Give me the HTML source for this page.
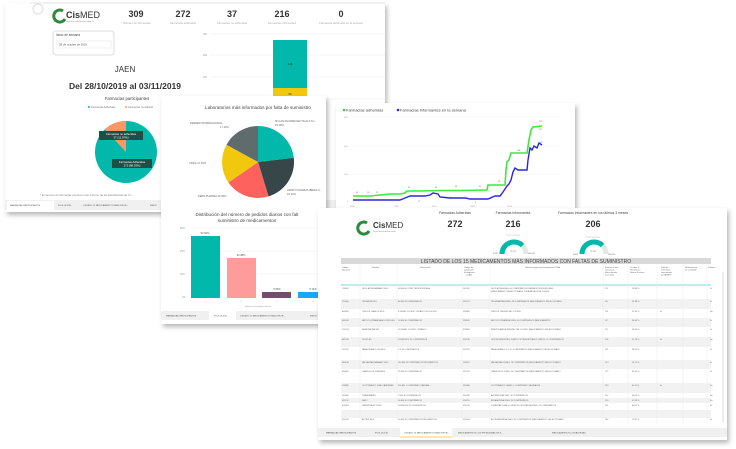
<!DOCTYPE html>
<html><head><meta charset="utf-8"><style>
html,body{margin:0;padding:0;background:#fff;}
svg{display:block;font-family:"Liberation Sans",sans-serif;}
</style></head><body>
<svg width="736" height="449" viewBox="0 0 736 449" xmlns="http://www.w3.org/2000/svg">
<defs>
<filter id="sh" x="-10%" y="-10%" width="120%" height="125%"><feDropShadow dx="2" dy="3" stdDeviation="2.5" flood-color="#000" flood-opacity="0.28"/></filter>
</defs>
<!-- PANEL 1 -->
<rect x="5" y="3" width="380" height="209" fill="#fff" filter="url(#sh)"/>
<line x1="30" y1="3" x2="385" y2="3" stroke="#e6e6e6"/>
<circle cx="38" cy="9" r="5" fill="none" stroke="#ddd"/>
<g>
<path d="M63 11 a6 6 0 1 0 2 8" fill="none" stroke="#2d8a3e" stroke-width="3"/>
<text x="66" y="18" font-size="9" font-weight="bold" fill="#333">Cis<tspan font-weight="normal">MED</tspan></text>
<text x="66" y="22" font-size="2" fill="#888">Centro de información sobre el</text>
</g>
<g font-size="9" font-weight="bold" fill="#333" text-anchor="middle">
<text x="136" y="17">309</text><text x="183" y="17">272</text><text x="232" y="17">37</text><text x="282" y="17">216</text><text x="341" y="17">0</text>
</g>
<g font-size="2.8" fill="#aaa" text-anchor="middle">
<text x="136" y="24">* Número de Farmacias</text><text x="183" y="24">Farmacias adheridas</text><text x="232" y="24">Farmacias no adheridas</text><text x="282" y="24">Farmacias informantes</text><text x="341" y="24">Farmacias adheridas en la semana</text>
</g>
<rect x="53" y="31" width="61" height="24" rx="3" fill="#fff" stroke="#ddd"/>
<text x="56" y="36" font-size="3.2" fill="#444">Inicio de semana</text>
<rect x="57" y="41" width="54" height="7" fill="#fff" stroke="#e4e4e4" stroke-width="0.5"/>
<text x="59" y="45.5" font-size="2.8" fill="#555">28 de octubre de 2019</text>
<text x="125" y="72" font-size="8" fill="#333" text-anchor="middle">JAEN</text>
<text x="125" y="89" font-size="8.5" fill="#333" text-anchor="middle" font-weight="bold">Del 28/10/2019 al 03/11/2019</text>
<text x="127" y="100" font-size="4.2" fill="#444" text-anchor="middle">Farmacias participantes</text>
<circle cx="89" cy="107" r="1" fill="#01b8aa"/><text x="91" y="108" font-size="2.6" fill="#777">Farmacias Adheridas</text>
<circle cx="126" cy="107" r="1" fill="#fe9666"/><text x="128" y="108" font-size="2.6" fill="#777">Farmacias no adherid</text>
<circle cx="126" cy="152" r="31" fill="#01b8aa"/>
<path d="M126 152 L104.8 129.4 A31 31 0 0 1 126 121 Z" fill="#fe9666"/>
<rect x="99" y="131" width="44" height="9" fill="#1f4e46"/>
<text x="121" y="135" font-size="2.8" fill="#fff" text-anchor="middle">Farmacias no adheridas</text>
<text x="121" y="138.5" font-size="2.8" fill="#fff" text-anchor="middle">37 (11.97%)</text>
<rect x="112" y="159" width="40" height="9" fill="#1f4e46"/>
<text x="132" y="163" font-size="2.8" fill="#fff" text-anchor="middle">Farmacias Adheridas</text>
<text x="132" y="166.5" font-size="2.8" fill="#fff" text-anchor="middle">272 (88.03%)</text>
<text x="40" y="196" font-size="2.8" fill="#888">* El número de farmacias provienen del informe de las Estadísticas de Co</text>
<rect x="5" y="200" width="380" height="10" fill="#f0f0f0"/>
<rect x="7" y="201" width="47" height="9" fill="#fff"/>
<g font-size="2.2" fill="#555"><text x="10" y="206">FARMACIAS PARTICIPANTES</text><text x="58" y="206">EVOLUCIÓN</text><text x="83" y="206">LISTADO 15 MEDICAMENTOS MÁS INFOR...</text><text x="150" y="206">MEDIC</text></g>
<!-- bar chart panel1 -->
<g font-size="2.4" fill="#999"><text x="203" y="35">300</text><text x="203" y="56">200</text><text x="203" y="78">100</text><text x="206" y="100">0</text></g>
<g stroke="#eee" stroke-width="0.6"><line x1="210" y1="34" x2="385" y2="34"/><line x1="210" y1="55" x2="385" y2="55"/><line x1="210" y1="77" x2="385" y2="77"/><line x1="210" y1="99" x2="385" y2="99"/></g>
<rect x="273" y="40" width="34" height="48" fill="#01b8aa"/>
<rect x="273" y="88" width="34" height="11" fill="#f2c80f"/>
<text x="290" y="65" font-size="2.8" fill="#333" text-anchor="middle">216</text>
<text x="290" y="95" font-size="2.8" fill="#333" text-anchor="middle">56</text>

<!-- PANEL 2 -->
<rect x="161" y="96" width="165" height="228" fill="#fff" filter="url(#sh)"/>
<text x="258" y="109" font-size="4.6" fill="#444" text-anchor="middle">Laboratorios más informados por falta de suministro</text>
<path d="M258 162 L258 126 A36 36 0 0 1 293.8 157.9 Z" fill="#01b8aa"/>
<path d="M258 162 L293.8 157.9 A36 36 0 0 1 268.5 196.4 Z" fill="#374649"/>
<path d="M258 162 L268.5 196.4 A36 36 0 0 1 228.4 182.5 Z" fill="#fd625e"/>
<path d="M258 162 L228.4 182.5 A36 36 0 0 1 226.5 144.7 Z" fill="#f2c80f"/>
<path d="M258 162 L226.5 144.7 A36 36 0 0 1 258 126 Z" fill="#5f6b6d"/>
<g font-size="2.6" fill="#666">
<text x="190" y="124">FERRER INTERNACIONAL</text><text x="220" y="128">17.19%</text>
<text x="275" y="122">MYLAN PHARMACEUTICALS S.L.</text><text x="275" y="126">23.18%</text>
<text x="189" y="164">CINFA 17.63%</text>
<text x="198" y="197">KERN PHARMA 20.05%</text>
<text x="287" y="191">ARISTO PHARMA IBERIA S...</text><text x="287" y="195">22.14%</text>
</g>
<text x="247" y="216" font-size="4.6" fill="#444" text-anchor="middle">Distribución del número de pedidos diarios con falt</text>
<text x="247" y="222" font-size="4.6" fill="#444" text-anchor="middle">suministro de medicamentos</text>
<g font-size="2.4" fill="#999"><text x="180" y="229">60%</text><text x="180" y="252">40%</text><text x="180" y="275">20%</text><text x="182" y="298">0%</text></g>
<g stroke="#eee" stroke-width="0.6"><line x1="189" y1="228" x2="325" y2="228"/><line x1="189" y1="251" x2="325" y2="251"/><line x1="189" y1="274" x2="325" y2="274"/></g>
<rect x="191" y="236" width="29" height="62" fill="#01b8aa"/>
<rect x="227" y="258" width="29" height="40" fill="#fd9c9a"/>
<rect x="262" y="292" width="29" height="6" fill="#744c6c"/>
<rect x="298" y="292" width="28" height="6" fill="#19a8f5"/>
<g font-size="2.6" fill="#555" text-anchor="middle"><text x="205" y="234">53.92%</text><text x="241" y="256">34.68%</text><text x="277" y="290">5.66%</text><text x="313" y="290">5.74%</text></g>
<g font-size="2.2" fill="#999" text-anchor="middle"><text x="205" y="302">1</text><text x="241" y="302">2</text><text x="277" y="302">3</text><text x="313" y="302">4</text><text x="258" y="307">Número de pedidos diarios</text></g>
<rect x="161" y="311" width="165" height="9" fill="#f0f0f0"/>
<rect x="209" y="311" width="27" height="9" fill="#fff"/>
<g font-size="2.2" fill="#555"><text x="166" y="316.5">FARMACIAS PARTICIPANTES</text><text x="214" y="316.5">EVOLUCIÓN</text><text x="240" y="316.5">LISTADO 15 MEDICAMENTOS MÁS INFOR...</text><text x="310" y="316.5">MEDIC</text></g>

<!-- PANEL 3 -->
<rect x="336" y="103" width="239" height="110" fill="#fff" filter="url(#sh)"/>
<circle cx="344" cy="110" r="1.3" fill="#3ad33a"/><text x="346" y="111.5" font-size="4" fill="#444">Farmacias adheridas</text>
<circle cx="398" cy="110" r="1.3" fill="#2b2bd8"/><text x="400" y="111.5" font-size="4" fill="#444">Farmacias informantes en la semana</text>
<g font-size="2.2" fill="#999"><text x="344" y="118">300</text><text x="344" y="147">200</text><text x="344" y="175">100</text><text x="347" y="202">0</text>
<text x="350" y="207">2015</text><text x="394" y="207">2016</text><text x="432" y="207">2017</text><text x="470" y="207">2018</text><text x="507" y="207">2019</text></g>
<g stroke="#f0f0f0" stroke-width="0.5"><line x1="352" y1="117" x2="560" y2="117"/><line x1="352" y1="146" x2="560" y2="146"/><line x1="352" y1="174" x2="560" y2="174"/></g>
<polyline fill="none" stroke="#3ee83e" stroke-width="1.6" points="353,196 370,196 380,195 390,194 400,194 405,193 407,191 420,191 440,190.5 460,190.5 487,190 488,185 505,185 506,170 507,162 509,160 511,153 527,153 529,140 531,130 533,127 542,126"/>
<polyline fill="none" stroke="#2828d8" stroke-width="1.4" points="353,200 370,200 390,200 400,200 405,198 410,196 425,196 430,195 433,193 438,194 440,197 450,198 465,198 470,199 480,199 488,199 495,196 500,196 503,192 505,189 507,186 509,184 511,180 513,172 515,168 518,170 527,170 528,160 530,148 532,150 534,146 537,148 539,143 542,145"/>
<g font-size="2" fill="#666"><text x="356" y="193">18</text><text x="367" y="193">19</text><text x="376" y="193">21</text><text x="408" y="188">36</text><text x="435" y="188">36</text><text x="455" y="187">38</text><text x="479" y="187">39</text><text x="498" y="182">58</text><text x="517" y="151">148</text><text x="539" y="122">272</text><text x="539" y="130">272</text><text x="539" y="143">193</text><text x="418" y="202">17</text><text x="450" y="198">9</text><text x="465" y="198">10</text><text x="475" y="203">4</text></g>

<!-- PANEL 4 -->
<rect x="318" y="208" width="409" height="232" fill="#fff" filter="url(#sh)"/>
<path d="M367 223 a6 6 0 1 0 2 8" fill="none" stroke="#2d8a3e" stroke-width="3"/>
<text x="373" y="228" font-size="8" font-weight="bold" fill="#333">Cis<tspan font-weight="normal">MED</tspan></text>
<text x="373" y="232" font-size="1.8" fill="#888">Centro de información sobre</text>
<g font-size="3.4" fill="#444" text-anchor="middle"><text x="455" y="214">Farmacias Adheridas</text><text x="513" y="214">Farmacias Informantes</text><text x="593" y="214">Farmacias Informantes en los últimos 3 meses</text></g>
<g font-size="9" font-weight="bold" fill="#333" text-anchor="middle"><text x="455" y="227">272</text><text x="513" y="227">216</text><text x="593" y="227">206</text></g>
<g font-size="3" fill="#ccc" text-anchor="middle"><text x="513" y="236">Porcentaje</text><text x="593" y="238">Porcentaje</text></g>
<path d="M502 254 A12 12 0 0 1 526 254" fill="none" stroke="#e6e6e6" stroke-width="5"/>
<path d="M502 254 A12 12 0 0 1 522.5 245.5" fill="none" stroke="#01b8aa" stroke-width="5"/>
<path d="M582 254 A12 12 0 0 1 606 254" fill="none" stroke="#e6e6e6" stroke-width="5"/>
<path d="M582 254 A12 12 0 0 1 602.5 245.5" fill="none" stroke="#01b8aa" stroke-width="5"/>
<g font-size="1.8" fill="#666"><text x="510" y="252">79.17%</text><text x="590" y="252">75.74%</text><text x="493" y="254">0.00%</text><text x="528" y="254">100.00%</text><text x="573" y="255">0.00%</text><text x="608" y="255">100.00%</text></g>
<rect x="341" y="258" width="370" height="6" fill="#d9d9d9"/>
<text x="526" y="263" font-size="5" fill="#444" text-anchor="middle">LISTADO DE LOS 15 MEDICAMENTOS MÁS INFORMADOS CON FALTAS DE SUMINISTRO</text>
<g font-size="2" fill="#666"><text x="342" y="268">Código</text><text x="342" y="270.5">Nacional</text><text x="372" y="268">Nombre</text><text x="420" y="268">Descripción</text><text x="464" y="268">Código de</text><text x="464" y="270.5">agrupación</text><text x="464" y="273">homogénea</text><text x="466" y="275.5">CCAA</text><text x="525" y="268">Nombre agrupación homogénea CCAA</text><text x="605" y="268">Farmacias que</text><text x="605" y="270.5">comunican</text><text x="605" y="273">faltas durante</text><text x="605" y="275.5">la semana</text><text x="630" y="268">% sobre F.</text><text x="630" y="270.5">informantes</text><text x="630" y="273">últimos 3 meses</text><text x="661" y="268">Falta de</text><text x="661" y="270.5">suministro</text><text x="661" y="273">comunicada</text><text x="661" y="275.5">por AEMPS</text><text x="685" y="268">Medicamento</text><text x="685" y="270.5">no sustituible</text><text x="708" y="268">Subaste</text></g>
<line x1="341" y1="285" x2="711" y2="285" stroke="#01b8aa" stroke-width="0.6"/>
<g fill="#f2f2f2"><rect x="341" y="299" width="370" height="10"/><rect x="341" y="318" width="370" height="9"/><rect x="341" y="337" width="370" height="10"/><rect x="341" y="360" width="370" height="9"/><rect x="341" y="383" width="370" height="10"/><rect x="341" y="398" width="370" height="5"/><rect x="341" y="410" width="370" height="8"/></g>
<g font-size="2" fill="#666">
<text x="342" y="289">706949</text><text x="362" y="289">GLICLAZIDA RANBAXY EFG</text><text x="398" y="289">60 MG 60 COMP LIB MODIFICADA</text><text x="463" y="289">567426</text><text x="491" y="289">GLICLAZIDA 60MG, 60 COMPRIMIDOS LIBERACION MODIFICADA</text><text x="491" y="292">(MEDICAMENTO SELECCIONADO TODA ANDALUCIA: 706949)</text><text x="605" y="289">111</text><text x="632" y="289">53.88 %</text><text x="710" y="289">Si</text>
<text x="342" y="302">720606</text><text x="362" y="302">TELMAXIN EFG</text><text x="398" y="302">80 MG 28 COMPRIMIDOS</text><text x="463" y="302">551527</text><text x="491" y="302">TELMISARTAN 80MG, 28 COMPRIMIDOS (MEDICAMENTO SELECCIONADO</text><text x="605" y="302">111</text><text x="632" y="302">53.88 %</text><text x="710" y="302">Si</text>
<text x="342" y="312">668260</text><text x="362" y="312">TIMOLOL SANDOZ EFG</text><text x="398" y="312">5 MG/ML COLIRIO 1 FRASCO SOLUCION</text><text x="463" y="312">556882</text><text x="491" y="312">TIMOLOL 5MG/ML 5ML COLIRIO</text><text x="605" y="312">114</text><text x="632" y="312">55.34 %</text><text x="660" y="312">Si</text><text x="710" y="312">No</text>
<text x="342" y="321">688746</text><text x="362" y="321">METOCLOPRAMIDA ACCORD EFG</text><text x="398" y="321">10 MG 30 COMPRIMIDOS</text><text x="463" y="321">558145</text><text x="491" y="321">METOCLOPRAMIDA 10MG, 30 COMPRIMIDOS (MEDICAMENTO</text><text x="605" y="321">117</text><text x="632" y="321">56.80 %</text><text x="710" y="321">Si</text>
<text x="342" y="330">707014</text><text x="362" y="330">BRIMONIDINA VIR</text><text x="398" y="330">10 MG/ML COLIRIO 1 FRASCO</text><text x="463" y="330">556893</text><text x="491" y="330">BRINZOLAMIDA 10MG/ML 5ML COLIRIO (MEDICAMENTO SELECCIONADO</text><text x="605" y="330">117</text><text x="632" y="330">56.80 %</text><text x="710" y="330">Si</text>
<text x="342" y="340">865230</text><text x="362" y="340">OVOPLEX</text><text x="398" y="340">150/30 MCG 21 COMPRIMIDOS</text><text x="463" y="340">552135</text><text x="491" y="340">LEVONORGESTREL 150MCG / ETINILESTRADIOL 30MCG, 21 COMPRIMIDOS</text><text x="605" y="340">118</text><text x="632" y="340">57.28 %</text><text x="660" y="340">Si</text><text x="710" y="340">No</text>
<text x="342" y="350">715374</text><text x="362" y="350">PARACETAMOL VIR EFG</text><text x="398" y="350">1 G 40 COMPRIMIDOS</text><text x="463" y="350">557872</text><text x="491" y="350">PARACETAMOL 1G, 40 COMPRIMIDOS (MEDICAMENTO SELECCIONADO</text><text x="605" y="350">121</text><text x="632" y="350">58.74 %</text><text x="710" y="350">Si</text>
<text x="342" y="363">880138</text><text x="362" y="363">VALSARTAN RANBAXY EFG</text><text x="398" y="363">160 MG 28 COMPRIMIDOS RECUBIERTOS</text><text x="463" y="363">555821</text><text x="491" y="363">VALSARTAN 160MG, 28 COMPRIMIDOS (MEDICAMENTO SELECCIONADO</text><text x="605" y="363">123</text><text x="632" y="363">59.71 %</text><text x="710" y="363">Si</text>
<text x="342" y="372">650855</text><text x="362" y="372">CARVEDILOL KRKA EFG</text><text x="398" y="372">25 MG 28 COMPRIMIDOS</text><text x="463" y="372">551729</text><text x="491" y="372">CARVEDILOL 25MG, 28 COMPRIMIDOS (MEDICAMENTO SELECCIONADO</text><text x="605" y="372">127</text><text x="632" y="372">61.65 %</text><text x="710" y="372">Si</text>
<text x="342" y="386">706889</text><text x="362" y="386">CLOTRIMAZOL GINE-CANESMED</text><text x="398" y="386">500 MG 1 COMPRIMIDO VAGINAL</text><text x="463" y="386">552086</text><text x="491" y="386">CLOTRIMAZOL 500MG, 1 COMPRIMIDO VAGINALES</text><text x="605" y="386">130</text><text x="632" y="386">63.11 %</text><text x="660" y="386">Si</text><text x="710" y="386">No</text>
<text x="342" y="396">695064</text><text x="362" y="396">TRANKIMAZIN</text><text x="398" y="396">1 MG 30 COMPRIMIDOS</text><text x="463" y="396">556228</text><text x="491" y="396">ALPRAZOLAM 1MG, 30 COMPRIMIDOS</text><text x="605" y="396">137</text><text x="632" y="396">66.50 %</text><text x="710" y="396">No</text>
<text x="342" y="401">915132</text><text x="362" y="401">SERC</text><text x="398" y="401">16 MG 30 COMPRIMIDOS</text><text x="463" y="401">556251</text><text x="491" y="401">BETAHISTINA 16MG, 30 COMPRIMIDOS</text><text x="605" y="401">139</text><text x="632" y="401">67.48 %</text><text x="710" y="401">No</text>
<text x="342" y="406">678381</text><text x="362" y="406">LAVESTRA HCT EFG</text><text x="398" y="406">100/25 MG 28 COMPRIMIDOS</text><text x="463" y="406">551769</text><text x="491" y="406">LOSARTAN 100MG / HIDROCLOROTIAZIDA 25MG, 28 COMPRIMIDOS</text><text x="605" y="406">141</text><text x="632" y="406">68.45 %</text><text x="710" y="406">Si</text>
<text x="342" y="420">675074</text><text x="362" y="420">ATORIS EFG</text><text x="398" y="420">20 MG 28 COMPRIMIDOS RECUBIERTOS</text><text x="463" y="420">555144</text><text x="491" y="420">ATORVASTATINA 20MG, 28 COMPRIMIDOS (MEDICAMENTO SELECCIONADO</text><text x="605" y="420">146</text><text x="632" y="420">70.87 %</text><text x="710" y="420">Si</text>
</g>
<g stroke="#e8e8e8" stroke-width="0.4"><line x1="360" y1="264" x2="360" y2="425"/><line x1="397" y1="264" x2="397" y2="425"/><line x1="462" y1="264" x2="462" y2="425"/><line x1="490" y1="264" x2="490" y2="425"/><line x1="603" y1="264" x2="603" y2="425"/><line x1="628" y1="264" x2="628" y2="425"/><line x1="657" y1="264" x2="657" y2="425"/><line x1="683" y1="264" x2="683" y2="425"/><line x1="707" y1="264" x2="707" y2="425"/></g>
<rect x="722" y="272" width="2" height="150" fill="#eee"/>
<rect x="318" y="428" width="409" height="9" fill="#f0f0f0"/>
<rect x="400" y="428" width="52" height="9" fill="#fff"/>
<line x1="400" y1="437" x2="452" y2="437" stroke="#f2c80f" stroke-width="0.8"/>
<g font-size="2.2" fill="#555"><text x="326" y="433.5">FARMACIAS PARTICIPANTES</text><text x="375" y="433.5">EVOLUCIÓN</text><text x="404" y="433.5">LISTADO 15 MEDICAMENTOS MÁS INFOR...</text><text x="458" y="433.5">MEDICAMENTOS CON PROBLEMAS DE S...</text><text x="552" y="433.5">MEDICAMENTOS CON ALERTAS</text></g>
</svg>
</body></html>
